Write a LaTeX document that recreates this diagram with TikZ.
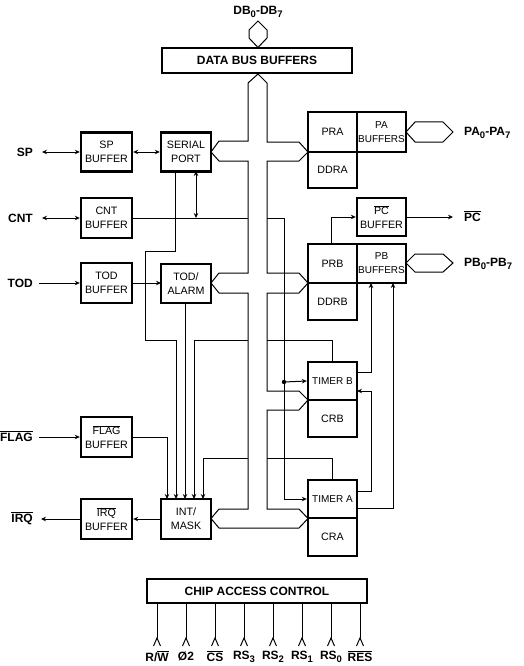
\documentclass[tikz,border=0pt]{standalone}
\usepackage{fontspec}
\setmainfont{Liberation Sans}
\usetikzlibrary{arrows.meta}
\newcommand\ovl[1]{$\overline{\mbox{#1}}$}
\newcommand\sbs[1]{\raisebox{-3pt}{\fontsize{9.5}{9.5}\selectfont #1}}
\begin{document}
\begin{tikzpicture}[x=1pt,y=-1pt,
  blk/.style={draw,line width=2.4pt,inner sep=0pt,align=center,font=\fontsize{10.7}{14}\selectfont},
  blks/.style={blk,font=\fontsize{10}{14}\selectfont},
  lbl/.style={font=\bfseries\fontsize{12}{13}\selectfont,inner sep=0pt},
  wire/.style={line width=1pt},
  arr/.style={wire,-{Stealth[length=5pt,width=4.5pt]}},
  darr/.style={wire,{Stealth[length=5pt,width=4.5pt]}-{Stealth[length=5pt,width=4.5pt]}},
  bus/.style={line width=1pt,line join=miter}]
\useasboundingbox[fill=white] (0,0) rectangle (523,666);

% ---- blocks
\node[blk,minimum width=190pt,minimum height=25pt,font=\bfseries\fontsize{12}{13}\selectfont] (dbb) at (257,60.5) {DATA BUS BUFFERS};
\node[blk,minimum width=51pt,minimum height=39pt] (spb) at (106.5,152) {SP\\BUFFER};
\node[blk,minimum width=50pt,minimum height=39pt] (ser) at (186,152) {SERIAL\\PORT};
\node[blk,minimum width=51pt,minimum height=40pt] (cntb) at (106.5,218) {CNT\\BUFFER};
\node[blk,minimum width=51pt,minimum height=40pt] (todb) at (106.5,283) {TOD\\BUFFER};
\node[blk,minimum width=50pt,minimum height=39pt] (tod) at (186,283.5) {TOD/\\ALARM};
\node[blk,minimum width=51pt,minimum height=40pt] (flagb) at (106.5,437) {\ovl{FLAG}\\BUFFER};
\node[blk,minimum width=51pt,minimum height=40pt] (irqb) at (106.5,519) {\ovl{IRQ}\\BUFFER};
\node[blk,minimum width=50pt,minimum height=40pt] (int) at (186,519) {INT/\\MASK};
\node[blk,minimum width=49pt,minimum height=40pt] (pra) at (332.5,132) {PRA};
\node[blk,minimum width=49pt,minimum height=36pt] (ddra) at (332.5,170) {DDRA};
\node[blks,minimum width=49pt,minimum height=40pt] (pab) at (381.5,132) {PA\\BUFFERS};
\node[blk,minimum width=49pt,minimum height=38pt] (pcb) at (381.5,217) {\ovl{PC}\\BUFFER};
\node[blk,minimum width=49pt,minimum height=39pt] (prb) at (332.5,263.5) {PRB};
\node[blk,minimum width=49pt,minimum height=37pt] (ddrb) at (332.5,301.5) {DDRB};
\node[blks,minimum width=49pt,minimum height=39pt] (pbb) at (381.5,263.5) {PB\\BUFFERS};
\node[blks,minimum width=49pt,minimum height=38pt] (tmb) at (332.5,381) {TIMER B};
\node[blk,minimum width=49pt,minimum height=37pt] (crb) at (332.5,418.5) {CRB};
\node[blks,minimum width=49pt,minimum height=38pt] (tma) at (332.5,499) {TIMER A};
\node[blk,minimum width=49pt,minimum height=38pt] (cra) at (332.5,537) {CRA};
\node[blk,minimum width=220pt,minimum height=24pt,font=\bfseries\fontsize{12}{13}\selectfont] (cac) at (257,591) {CHIP ACCESS CONTROL};

% ---- outer labels
\node[lbl,anchor=east] (sp) at (33,152) {SP};
\node[lbl,anchor=east] (cnt) at (33,218) {CNT};
\node[lbl,anchor=east] (todl) at (33,283) {TOD};
\node[lbl,anchor=east] (flag) at (33,436) {\ovl{FLAG}};
\node[lbl,anchor=east] (irq) at (33,518) {\ovl{IRQ}};
\node[lbl,anchor=west] (pa) at (464,133) {PA\sbs{0}-PA\sbs{7}};
\node[lbl,anchor=west] (pc) at (464,216) {\ovl{PC}};
\node[lbl,anchor=west] (pb) at (464,264) {PB\sbs{0}-PB\sbs{7}};
\node[lbl] (db) at (258,12) {DB\sbs{0}-DB\sbs{7}};

% ---- data bus (outlined channel)
\draw[bus] (258,74) -- (248,83) -- (248,141) -- (219,141) -- (211,152) -- (219,161)
  -- (248,161) -- (248,273) -- (219,273) -- (211,283) -- (219,293) -- (248,293)
  -- (248,509) -- (219,509) -- (211,518.5) -- (219,528) -- (299,528) -- (308,518.5)
  -- (299,509) -- (267,509) -- (267,410) -- (299,410) -- (308,400) -- (299,391)
  -- (267,391) -- (267,293) -- (299,293) -- (308,283) -- (299,273) -- (267,273)
  -- (267,161) -- (299,161) -- (308,152) -- (299,142) -- (267,142) -- (267,83) -- cycle;
% DB connector
\draw[bus] (258,21) -- (267,30) -- (267,38) -- (258,47.5) -- (249,38) -- (249,30) -- cycle;
% port connectors
\draw[bus] (406,132) -- (415,122) -- (443,122) -- (453,132) -- (443,142) -- (415,142) -- cycle;
\draw[bus] (406,263) -- (415,254) -- (443,254) -- (453,263) -- (443,272) -- (415,272) -- cycle;

% ---- left side connections
\draw[darr] (42,152) -- (spb.west);
\draw[darr] (spb.east) -- (ser.west);
\draw[darr] (42,218) -- (cntb.west);
\draw[arr] (39,283) -- (todb.west);
\draw[arr] (todb.east) -- (161,283);
\draw[arr] (39,437) -- (flagb.west);
\draw[arr] (int.west) -- (irqb.east);
\draw[arr] (irqb.west) -- (41,519);
\draw[darr] (196,171) -- (196,218);
\draw[wire] (cntb.east) -- (248,218);
\draw[wire] (267,218) -- (284,218) -- (284,382);
\draw[arr] (284,382) -- (284,499) -- (tma.west);
\draw[arr] (284,382) -- (tmb.west);
\fill (284,382) circle (2.2pt);

% ---- inputs of INT/MASK
\draw[arr] (flagb.east |- 0,437) -- (167,437) -- (167,499);
\draw[arr] (175,171) -- (175,251) -- (145,251) -- (145,340) -- (176,340) -- (176,499);
\draw[arr] (185,303) -- (185,499);
\draw[wire] (tmb.north -| 332,0) -- (332,340) -- (267,340);
\draw[arr] (248,340) -- (194,340) -- (194,499);
\draw[wire] (tma.north -| 332,0) -- (332,458) -- (267,458);
\draw[arr] (248,458) -- (203,458) -- (203,499);

% ---- right side connections
\draw[arr] (331,244) -- (331,217) -- (pcb.west);
\draw[arr] (pcb.east) -- (453,217);
\draw[arr] (357,372) -- (371,372) -- (371,283);
\draw[arr] (357,491) -- (371,491) -- (371,391) -- (357,391);
\draw[arr] (357,508) -- (393,508) -- (393,283);

% ---- chip access control pins
\foreach \x in {157,186,215,244,273,302,331,360}{
  \draw[wire] (\x,603) -- (\x,638);
  \draw[wire] (\x-3.5,646) -- (\x,638) -- (\x+3.5,646);
}
\node[lbl] (p1) at (157,656) {R/\ovl{W}};
\node[lbl] (p2) at (186,656) {Ø2};
\node[lbl] (p3) at (215,656) {\ovl{CS}};
\node[lbl] (p4) at (244,657) {RS\sbs{3}};
\node[lbl] (p5) at (273,657) {RS\sbs{2}};
\node[lbl] (p6) at (302,657) {RS\sbs{1}};
\node[lbl] (p7) at (331,657) {RS\sbs{0}};
\node[lbl] (p8) at (360,656) {\ovl{RES}};
\end{tikzpicture}
\end{document}
